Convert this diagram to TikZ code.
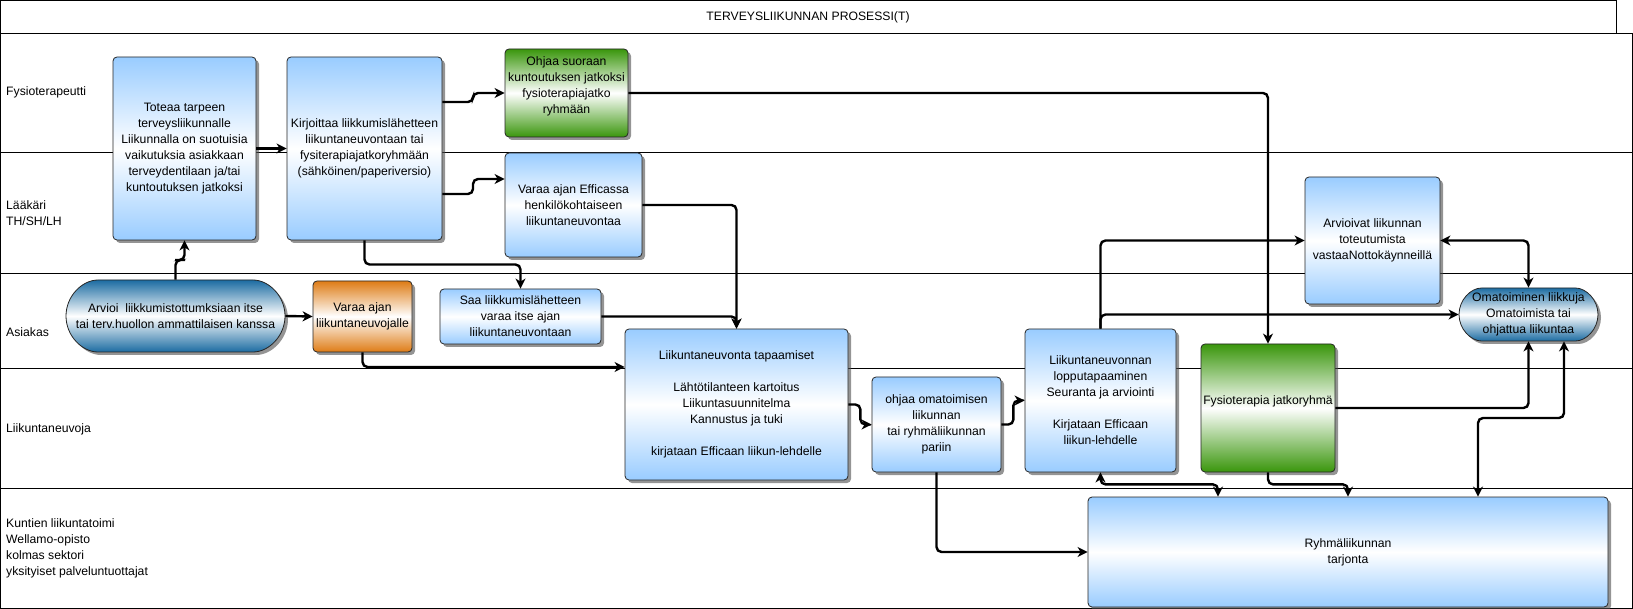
\documentclass[tikz,border=0pt]{standalone}
\usepackage{fontspec}
\setmainfont{Liberation Sans}
\usetikzlibrary{arrows.meta,shadows,shapes.misc,calc}
\definecolor{boxblue}{RGB}{153,204,255}
\definecolor{boxgreen}{RGB}{58,150,12}
\definecolor{boxorange}{RGB}{222,124,22}
\definecolor{pillblue}{RGB}{28,108,162}
\def\boxfont{\fontsize{12.2}{16}\selectfont}
\tikzset{
	box/.style={
		draw=black!85, line width=0.8pt, rounded corners=4pt, align=center,
		inner sep=2pt, font=\boxfont,
		drop shadow={shadow xshift=3pt, shadow yshift=-3pt, fill=black!70, opacity=0.6}
	},
	bluebox/.style={box, top color=boxblue, bottom color=boxblue, middle color=white},
	greenbox/.style={box, top color=boxgreen, bottom color=boxgreen, middle color=white},
	orangebox/.style={box, top color=boxorange, bottom color=boxorange, middle color=white},
	pill/.style={box, rounded rectangle, top color=pillblue, bottom color=pillblue, middle color=white},
	flow/.style={line width=2.4pt, rounded corners=5pt, ->},
	lane/.style={line width=0.8pt},
	lanetext/.style={anchor=west, align=left, inner sep=0pt, font=\boxfont},
	>={Stealth[length=10pt,width=10pt,inset=3pt]},
}

\begin{document}
\begin{tikzpicture}[x=1pt, y=-1pt]
\useasboundingbox (0,0) rectangle (1633,609);
% swimlanes
\draw[lane] (0,0) rectangle (1616,33);
\draw[lane] (0,33) rectangle (1632,608);
\foreach \y in {152,273,368,488}
	\draw[lane] (0,\y) -- (1632,\y);
\node[font=\boxfont] (title) at (808,17) {TERVEYSLIIKUNNAN PROSESSI(T)};
\node[lanetext] (fysio) at (6,92) {Fysioterapeutti};
\node[lanetext] (laakari) at (6,213) {Lääkäri\\TH/SH/LH};
\node[lanetext] (asiakas) at (6,332) {Asiakas};
\node[lanetext] (neuvoja) at (6,429) {Liikuntaneuvoja};
\node[lanetext] (kunnat) at (6,548) {Kuntien liikuntatoimi\\Wellamo-opisto\\kolmas sektori\\yksityiset palveluntuottajat};

% steps
\node[bluebox, minimum width=143pt, minimum height=183pt] (toteaa) at (184.5,148.5)
	{Toteaa tarpeen\\terveysliikunnalle\\Liikunnalla on suotuisia\\vaikutuksia asiakkaan\\terveydentilaan ja/tai\\kuntoutuksen jatkoksi};
\node[bluebox, minimum width=155pt, minimum height=183pt] (kirjoittaa) at (364.5,148.5)
	{Kirjoittaa liikkumislähetteen\\liikuntaneuvontaan tai\\fysiterapiajatkoryhmään\\(sähköinen/paperiversio)};
\node[greenbox, minimum width=123pt, minimum height=88pt] (ohjaa) at (566.5,93)
	{Ohjaa suoraan\\kuntoutuksen jatkoksi\\fysioterapiajatko\\ryhmään\\~};
\node[bluebox, minimum width=137pt, minimum height=104pt] (varaa) at (573.5,205)
	{Varaa ajan Efficassa\\henkilökohtaiseen\\liikuntaneuvontaa};
\node[pill, minimum width=223pt, minimum height=72pt] (arvioi) at (175.5,316)
	{Arvioi\ \ liikkumistottumksiaan itse\\tai terv.huollon ammattilaisen kanssa};
\node[orangebox, minimum width=99pt, minimum height=71pt] (ajan) at (362.5,316.5)
	{Varaa ajan\\liikuntaneuvojalle};
\node[bluebox, minimum width=161pt, minimum height=55pt] (saa) at (520.5,316.5)
	{Saa liikkumislähetteen\\varaa itse ajan\\liikuntaneuvontaan};
\node[bluebox, minimum width=223pt, minimum height=151pt] (tapaamiset) at (736.5,404.5)
	{Liikuntaneuvonta tapaamiset\\~\\Lähtötilanteen kartoitus\\Liikuntasuunnitelma\\Kannustus ja tuki\\~\\kirjataan Efficaan liikun-lehdelle};
\node[bluebox, minimum width=129pt, minimum height=95pt] (omatoim) at (936.5,424.5)
	{ohjaa omatoimisen\\liikunnan\\tai ryhmäliikunnan\\pariin};
\node[bluebox, minimum width=151pt, minimum height=143pt] (loppu) at (1100.5,400.5)
	{Liikuntaneuvonnan\\lopputapaaminen\\Seuranta ja arviointi\\~\\Kirjataan Efficaan\\liikun-lehdelle};
\node[greenbox, minimum width=134pt, minimum height=128pt] (jatko) at (1268,408)
	{Fysioterapia jatkoryhmä\\~};
\node[bluebox, minimum width=135pt, minimum height=127pt] (arvioivat) at (1372.5,240.5)
	{Arvioivat liikunnan\\toteutumista\\vastaaNottokäynneillä};
\node[pill, minimum width=143pt, minimum height=53pt] (omat) at (1528.5,314.5)
	{Omatoiminen liikkuja\\Omatoimista tai\\ohjattua liikuntaa};
\node[bluebox, minimum width=520pt, minimum height=110pt] (ryhma) at (1348,552)
	{Ryhmäliikunnan\\tarjonta};

% connectors
\draw[flow] (arvioi.north) |- ($(arvioi.north)!.5!(toteaa.south)$) -| (toteaa.south);
\draw[flow] (toteaa.east) -- (kirjoittaa.west);
\draw[flow] (kirjoittaa.east |- 0,102) -- (473,102) |- (ohjaa.west);
\draw[flow] (kirjoittaa.east |- 0,194) -- (473,194) |- (varaa.west |- 0,179);
\draw[flow] (kirjoittaa.south) |- ($(kirjoittaa.south)!.5!(saa.north)$) -| (saa.north);
\draw[flow] (varaa.east) -| (tapaamiset.north);
\draw[flow] (saa.east) -| (tapaamiset.north);
\draw[flow] (arvioi.east) -- (ajan.west);
\draw[flow] (ajan.south) |- (tapaamiset.west |- 0,367);
\draw[flow] (tapaamiset.east) -- ++(12,0) |- (omatoim.west);
\draw[flow] (omatoim.east) -- ++(12,0) |- (loppu.west);
\draw[flow] (omatoim.south) |- (ryhma.west);
\draw[flow] (loppu.north) |- (arvioivat.west);
\draw[flow] (loppu.north) |- (omat.west);
\draw[flow] (ohjaa.east) -| (jatko.north);
\draw[flow, <->] (arvioivat.east) -| (omat.north);
\draw[flow] (jatko.east) -| (omat.south);
\draw[flow, <->] (ryhma.north -| 1478,0) |- (1564,418) -- (omat.south -| 1564,0);
\draw[flow] (jatko.south) -- ++(0,12) -| (ryhma.north);
\draw[flow, <->] (loppu.south) -- ++(0,12) -| (ryhma.north -| 1218,0);
\end{tikzpicture}
\end{document}
